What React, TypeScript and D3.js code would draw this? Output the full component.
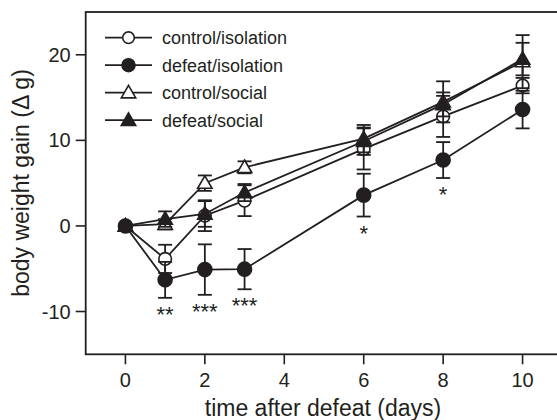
import React from "react";
import * as d3 from "d3";

const days = [0, 1, 2, 3, 6, 8, 10];
const seriesNames = ["control/isolation", "defeat/isolation", "control/social", "defeat/social"];
const ciMean = [0, -3.85, 1.2, 2.95, 9.0, 12.8, 16.4];
const ciErr = [0, 1.65, 1.8, 1.8, 2.4, 2.4, 0.9];
const diMean = [0, -6.3, -5.1, -5.05, 3.6, 7.7, 13.6];
const diErr = [0, 2.1, 2.95, 2.35, 2.5, 2.1, 2.2];
const csMean = [0, 0.2, 5.0, 6.85, 10.2, 14.5, 19.2];
const csErr = [0, 0.6, 0.9, 0.7, 1.6, 2.4, 3.1];
const dsMean = [0, 0.8, 1.4, 3.9, 9.9, 14.2, 19.5];
const dsErr = [0, 0.9, 1.5, 1.0, 1.6, 1.4, 1.9];
const diStars = ["", "**", "***", "***", "*", "*", ""];
const xTicks = [0, 2, 4, 6, 8, 10];
const yTicks = [-10, 0, 10, 20];

const W = 557;
const H = 420;
const INK = "#231f20";
const FONT = "'Liberation Sans', Arial, Helvetica, sans-serif";

const x = d3.scaleLinear().domain([-1, 11]).range([85.7, 562.3]);
const y = d3.scaleLinear().domain([-15, 25]).range([354.3, 12]);

type Series = { name: string; mean: number[]; err: number[]; shape: "circle" | "triangle"; filled: boolean };
const series: Series[] = [
  { name: seriesNames[0], mean: ciMean, err: ciErr, shape: "circle", filled: false },
  { name: seriesNames[1], mean: diMean, err: diErr, shape: "circle", filled: true },
  { name: seriesNames[2], mean: csMean, err: csErr, shape: "triangle", filled: false },
  { name: seriesNames[3], mean: dsMean, err: dsErr, shape: "triangle", filled: true },
];

const triPath = d3.symbol(d3.symbolTriangle, 90)() as string;
const line = d3.line<[number, number]>().x((d) => x(d[0])).y((d) => y(d[1]));

function Marker({ s, cx, cy, small }: { s: Series; cx: number; cy: number; small?: boolean }) {
  const fill = s.filled ? INK : "#fff";
  if (s.shape === "circle") {
    return (
      <circle cx={cx} cy={cy} r={s.filled ? (small ? 6.5 : 7) : small ? 5.8 : 6.3} fill={fill} stroke={INK} strokeWidth={1.6} />
    );
  }
  return <path d={triPath} transform={`translate(${cx},${cy + 1})`} fill={fill} stroke={INK} strokeWidth={1.6} strokeLinejoin="miter" />;
}

export default function App() {
  const cap = 7;
  return (
    <svg width={W} height={H} style={{ position: "absolute", left: 0, top: 0, background: "#fff" }} fontFamily={FONT}>
      {/* frame */}
      <rect x={x(-1)} y={y(25)} width={x(11) - x(-1)} height={y(-15) - y(25)} fill="none" stroke={INK} strokeWidth={1.8} />
      {/* y ticks */}
      {yTicks.map((t) => (
        <g key={"y" + t}>
          <line x1={x(-1) - 10} x2={x(-1)} y1={y(t)} y2={y(t)} stroke={INK} strokeWidth={1.6} />
          <text x={x(-1) - 15} y={y(t)} dy="0.35em" textAnchor="end" fontSize={20} fill={INK}>
            {t}
          </text>
        </g>
      ))}
      {/* x ticks */}
      {xTicks.map((t) => (
        <g key={"x" + t}>
          <line x1={x(t)} x2={x(t)} y1={y(-15)} y2={y(-15) + 10} stroke={INK} strokeWidth={1.6} />
          <text x={x(t)} y={387} textAnchor="middle" fontSize={20} fill={INK}>
            {t}
          </text>
        </g>
      ))}
      <text x={323} y={416} textAnchor="middle" fontSize={23} fill={INK}>
        time after defeat (days)
      </text>
      <text transform={`translate(28.5,${183}) rotate(-90)`} textAnchor="middle" fontSize={23} fill={INK}>
        body weight gain (Δ g)
      </text>
      {/* series */}
      {series.map((s) => {
        const pts = days.map((d, i) => [d, s.mean[i]] as [number, number]);
        return (
          <g key={s.name}>
            <path d={line(pts) as string} fill="none" stroke={INK} strokeWidth={1.8} />
            {days.map((d, i) =>
              s.err[i] > 0 ? (
                <g key={i} stroke={INK} strokeWidth={1.8}>
                  <line x1={x(d)} x2={x(d)} y1={y(s.mean[i] + s.err[i])} y2={y(s.mean[i] - s.err[i])} />
                  <line x1={x(d) - cap} x2={x(d) + cap} y1={y(s.mean[i] + s.err[i])} y2={y(s.mean[i] + s.err[i])} />
                  <line x1={x(d) - cap} x2={x(d) + cap} y1={y(s.mean[i] - s.err[i])} y2={y(s.mean[i] - s.err[i])} />
                </g>
              ) : null
            )}
            {days.map((d, i) => (
              <Marker key={"m" + i} s={s} cx={x(d)} cy={y(s.mean[i])} />
            ))}
          </g>
        );
      })}
      {/* significance stars */}
      {days.map((d, i) =>
        diStars[i] ? (
          <text key={"s" + i} x={x(d)} y={y(diMean[i] - diErr[i]) + 24} textAnchor="middle" fontSize={22} fill={INK}>
            {diStars[i]}
          </text>
        ) : null
      )}
      {/* legend */}
      {series.map((s, i) => {
        const ly = 37.7 + i * 27.5;
        return (
          <g key={"l" + i}>
            <line x1={105} x2={152} y1={ly} y2={ly} stroke={INK} strokeWidth={1.8} />
            <Marker s={s} cx={128.5} cy={ly} small />
            <text x={162} y={ly} dy="0.36em" fontSize={18} fill={INK}>
              {s.name}
            </text>
          </g>
        );
      })}
    </svg>
  );
}
